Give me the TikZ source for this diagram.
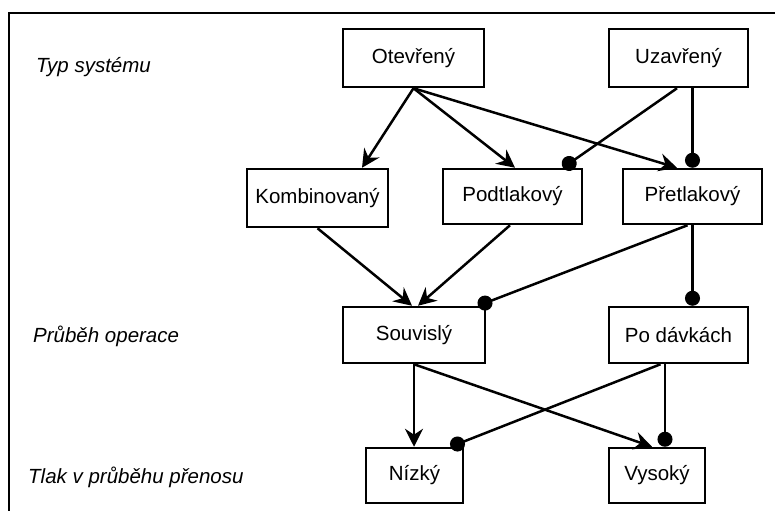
\documentclass[tikz,border=0pt]{standalone}
\usepackage{fontspec}
\setmainfont{Liberation Sans}
\usetikzlibrary{arrows.meta}
\begin{document}
\begin{tikzpicture}[x=1pt,y=-1pt,
  box/.style={draw,line width=2.5pt,minimum width=#1,minimum height=56pt,inner sep=0pt,font=\fontsize{20.5}{24}\selectfont},
  box/.default=140pt,
  lab/.style={anchor=west,font=\fontsize{20.5}{24}\selectfont\itshape,inner sep=0pt},
  arr/.style={line width=2.5pt,-{Stealth[length=18pt,width=18pt,inset=6pt]}},
  dot/.style={line width=2.5pt,-{Circle[length=15pt]}}]
\useasboundingbox (0,0) rectangle (775,511);
\draw[line width=2.5pt] (775,13) -- (9,13) -- (9,511);
% labels
\node[lab] (l1) at (36,67) {Typ systému};
\node[lab] (l2) at (33,336) {Průběh operace};
\node[lab] (l3) at (28,477) {Tlak v průběhu přenosu};
% nodes
\node[box=141pt,minimum height=58pt] (ot) at (413.5,58) {Otevřený};
\node[box=139pt,minimum height=58pt] (uz) at (678.5,58) {Uzavřený};
\node[box=141pt,minimum height=58pt] (kom) at (317.5,198) {Kombinovaný};
\node[box=139pt,minimum height=55pt] (podt) at (512.5,196.5) {Podtlakový};
\node[box=139pt,minimum height=55pt] (pret) at (692.5,196.5) {Přetlakový};
\node[box=142pt] (sou) at (414,335) {Souvislý};
\node[box=139pt] (davk) at (678.5,335) {Po dávkách};
\node[box=97pt,minimum height=55pt] (niz) at (414.5,475.5) {Nízký};
\node[box=96pt,minimum height=55pt] (vys) at (657,475.5) {Vysoký};
% connectors
\draw[arr] (ot.south) -- ([xshift=44.5pt]kom.north);
\draw[arr] (ot.south) -- ([xshift=2.5pt]podt.north);
\draw[arr] (ot.south) -- ([xshift=-15.5pt]pret.north);
\draw[dot] ([xshift=-1.5pt]uz.south) -- ([xshift=50.5pt]podt.north);
\draw[dot] ([xshift=14pt]uz.south) -- (pret.north);
\draw[arr] (kom.south) -- ([xshift=-2pt]sou.north);
\draw[arr] ([xshift=-2.5pt]podt.south) -- ([xshift=4pt]sou.north);
\draw[dot] ([xshift=-5pt]pret.south) -- ([xshift=64pt]sou.north);
\draw[dot] (pret.south) -- ([xshift=14pt]davk.north);
\draw[arr] (sou.south) -- ([xshift=-0.5pt]niz.north);
\draw[arr] (sou.south) -- ([xshift=-5pt]vys.north);
\draw[dot] ([xshift=-18pt]davk.south) -- ([xshift=36pt]niz.north);
\draw[dot] ([xshift=-13.5pt]davk.south) -- ([xshift=8pt]vys.north);
\end{tikzpicture}
\end{document}
